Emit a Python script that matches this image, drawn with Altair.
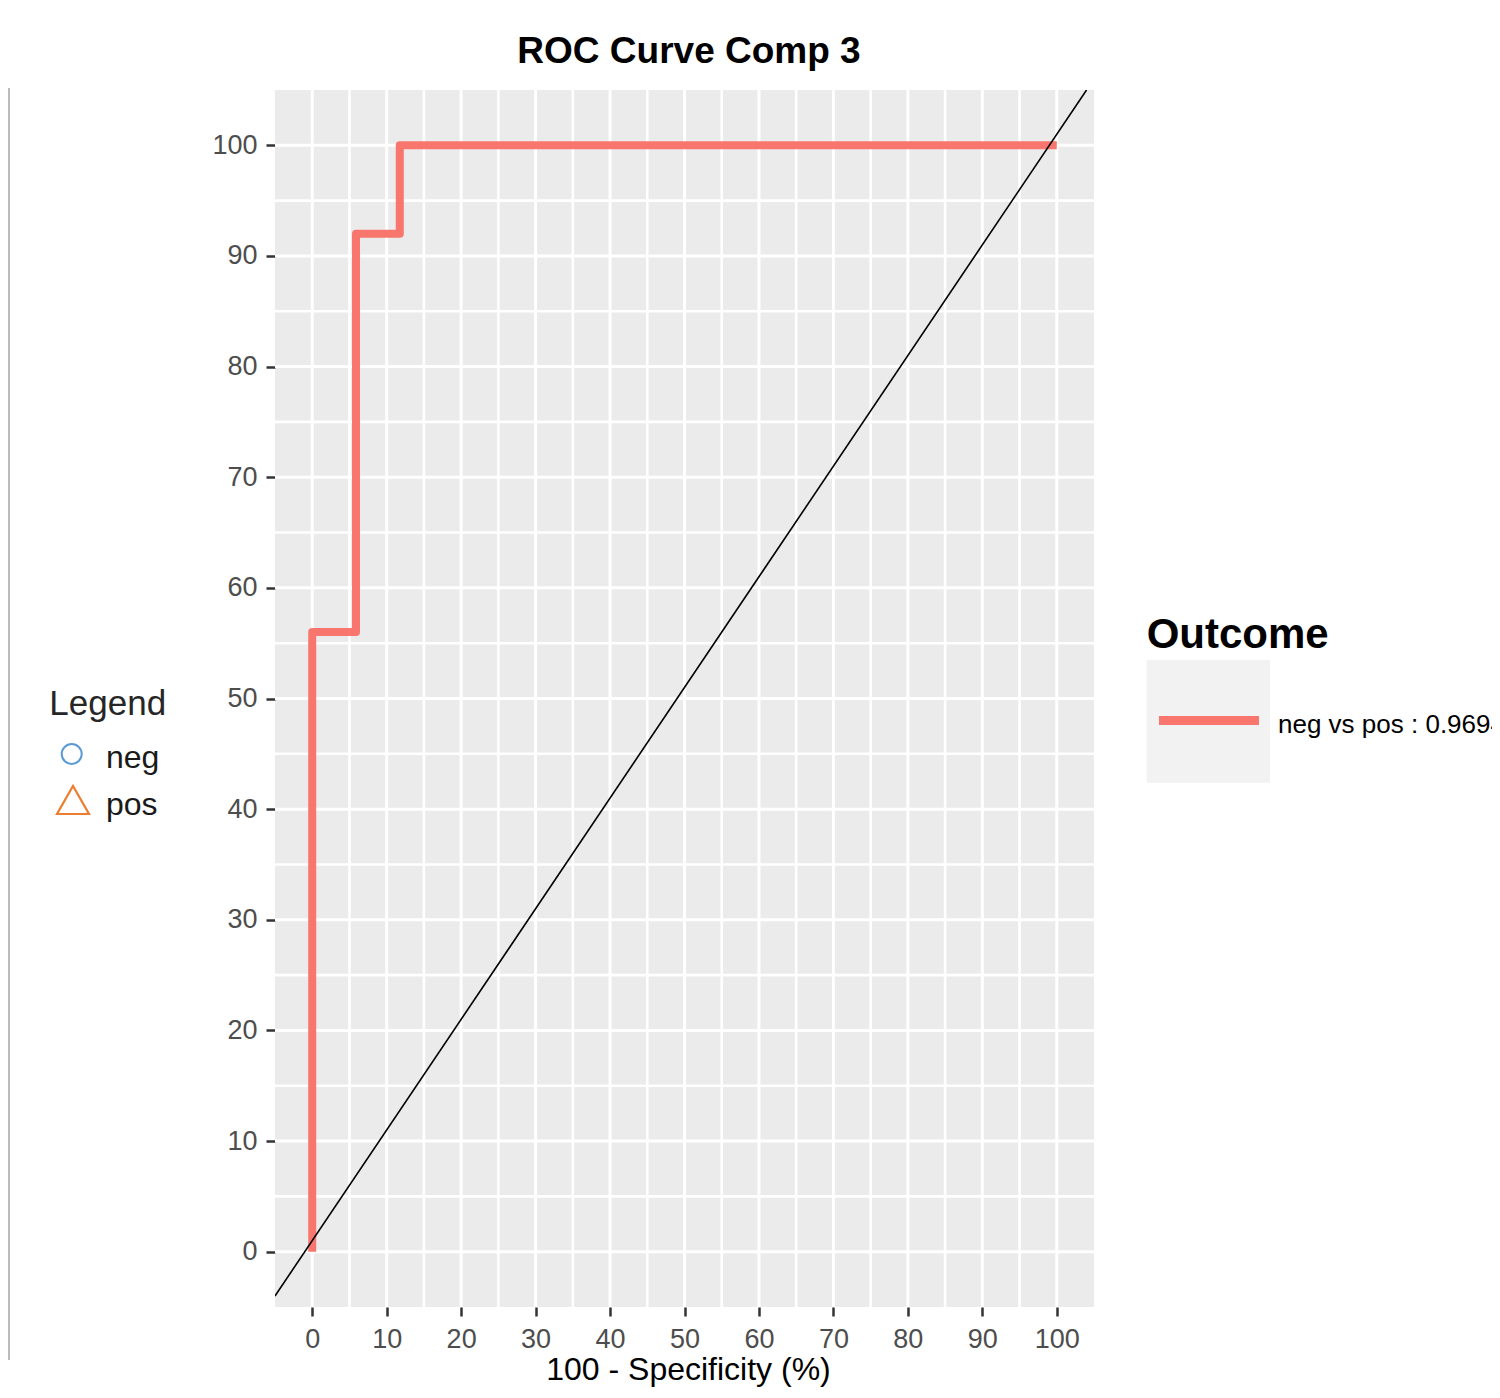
import altair as alt
import pandas as pd

# ---------------- data ----------------
roc_fpr = [0, 0, 5.88, 5.88, 11.76, 11.76, 100]      # 100 - Specificity (%)
roc_tpr = [0, 56, 56, 92, 92, 100, 100]              # Sensitivity (%)
diag_x = [-5, 104]
diag_y = [-4, 105]
major_breaks = [0, 10, 20, 30, 40, 50, 60, 70, 80, 90, 100]
minor_breaks = [5, 15, 25, 35, 45, 55, 65, 75, 85, 95]
legend_title = ["Legend"]
legend_items = ["neg", "pos"]
outcome_title = ["Outcome"]
outcome_label = ["neg vs pos : 0.9694"]
chart_title = "ROC Curve Comp 3"
x_title = "100 - Specificity (%)"

FONT = "Liberation Sans"
RED = "#F8766D"

roc_df = pd.DataFrame({"fpr": roc_fpr, "tpr": roc_tpr, "idx": list(range(len(roc_fpr)))})
diag_df = pd.DataFrame({"dx": diag_x, "dy": diag_y})

x_scale = alt.Scale(domain=[-5, 105], nice=False, zero=False)
y_scale = alt.Scale(domain=[-5, 105], nice=False, zero=False)

x_axis = alt.Axis(
    values=major_breaks, grid=False, domain=False,
    tickColor="#333333", tickWidth=2.5, tickSize=9,
    labelFont=FONT, labelFontSize=27, labelColor="#4D4D4D", labelPadding=10,
    labelFlush=False, labelOverlap=False,
    title=x_title, titleFont=FONT, titleFontSize=32, titleFontWeight="normal",
    titleColor="black", titleBaseline="alphabetic", titleY=72, titleX=413,
)
y_axis = alt.Axis(
    values=major_breaks, grid=False, domain=False,
    tickColor="#333333", tickWidth=2.5, tickSize=9,
    labelFont=FONT, labelFontSize=27, labelColor="#4D4D4D", labelPadding=9,
    labelFlush=False, labelOverlap=False, title=None,
)

# ---------------- grid ----------------
vminor = alt.Chart(pd.DataFrame({"v": minor_breaks})).mark_rule(color="white", strokeWidth=2.6).encode(
    x=alt.X("v:Q", scale=x_scale, axis=x_axis))
vmajor = alt.Chart(pd.DataFrame({"v": major_breaks})).mark_rule(color="white", strokeWidth=3).encode(
    x=alt.X("v:Q", scale=x_scale, axis=x_axis))
hminor = alt.Chart(pd.DataFrame({"h": minor_breaks})).mark_rule(color="white", strokeWidth=2.6).encode(
    y=alt.Y("h:Q", scale=y_scale, axis=y_axis))
hmajor = alt.Chart(pd.DataFrame({"h": major_breaks})).mark_rule(color="white", strokeWidth=3).encode(
    y=alt.Y("h:Q", scale=y_scale, axis=y_axis))

# ---------------- curves ----------------
roc = alt.Chart(roc_df).mark_line(color=RED, strokeWidth=8, strokeJoin="round", strokeCap="butt").encode(
    x=alt.X("fpr:Q", scale=x_scale, axis=x_axis),
    y=alt.Y("tpr:Q", scale=y_scale, axis=y_axis),
    order="idx:Q",
)
diag = alt.Chart(diag_df).mark_line(color="black", strokeWidth=1.6, clip=True).encode(
    x=alt.X("dx:Q", scale=x_scale, axis=x_axis),
    y=alt.Y("dy:Q", scale=y_scale, axis=y_axis),
)

# ---------------- left (pasted) legend ----------------
one = pd.DataFrame({"a": [0]})
left_border = alt.Chart(one).mark_rule(color="#A6A6A6", strokeWidth=1.5).encode(
    x=alt.value(-266), y=alt.value(-2), y2=alt.value(1270))
leg_title = alt.Chart(pd.DataFrame({"t": legend_title})).mark_text(
    align="left", baseline="alphabetic", font=FONT, fontSize=35, color="#262626").encode(
    x=alt.value(-225.7), y=alt.value(625), text="t:N")
neg_sym = alt.Chart(one).mark_point(shape="circle", size=400, filled=False, stroke="#5B9BD5",
                                    strokeWidth=2, opacity=1).encode(
    x=alt.value(-203.3), y=alt.value(664))
pos_sym = alt.Chart(one).mark_point(shape="M-1,0.875L1,0.875L0,-0.875Z", size=1024, filled=False,
                                    stroke="#ED7D31", strokeWidth=2.2, opacity=1).encode(
    x=alt.value(-202), y=alt.value(710))
neg_txt = alt.Chart(pd.DataFrame({"t": legend_items[:1]})).mark_text(
    align="left", baseline="alphabetic", font=FONT, fontSize=32, color="#1A1A1A").encode(
    x=alt.value(-169), y=alt.value(678), text="t:N")
pos_txt = alt.Chart(pd.DataFrame({"t": legend_items[1:]})).mark_text(
    align="left", baseline="alphabetic", font=FONT, fontSize=32, color="#1A1A1A").encode(
    x=alt.value(-169), y=alt.value(725), text="t:N")

# ---------------- right legend (Outcome) ----------------
out_title = alt.Chart(pd.DataFrame({"t": outcome_title})).mark_text(
    align="left", baseline="alphabetic", font=FONT, fontSize=42, fontWeight="bold", color="black").encode(
    x=alt.value(871.7), y=alt.value(557.5), text="t:N")
key_box = alt.Chart(one).mark_rect(color="#F2F2F2").encode(
    x=alt.value(871.7), x2=alt.value(995), y=alt.value(570), y2=alt.value(692.7))
key_line = alt.Chart(one).mark_rule(color=RED, strokeWidth=9, strokeCap="butt").encode(
    x=alt.value(884), x2=alt.value(984), y=alt.value(630.5))
key_label = alt.Chart(pd.DataFrame({"t": outcome_label})).mark_text(
    align="left", baseline="alphabetic", font=FONT, fontSize=26, color="black").encode(
    x=alt.value(1003), y=alt.value(643.3), text="t:N")

chart = alt.layer(
    vminor, vmajor, hminor, hmajor, roc, diag,
    left_border, leg_title, neg_sym, pos_sym, neg_txt, pos_txt,
    out_title, key_box, key_line, key_label,
).properties(
    width=819, height=1217,
    title=alt.TitleParams(chart_title, font=FONT, fontSize=37, fontWeight="bold", color="black",
                          anchor="middle", baseline="alphabetic", offset=27, dx=4.5, dy=40),
    autosize=alt.AutoSizeParams(type="none"),
    padding={"left": 267, "top": 82, "right": 398, "bottom": 80},
    background="white",
).configure_view(
    fill="#EBEBEB", stroke=None,
)

chart.save("out.html", embed_options={"renderer": "svg", "actions": False})
